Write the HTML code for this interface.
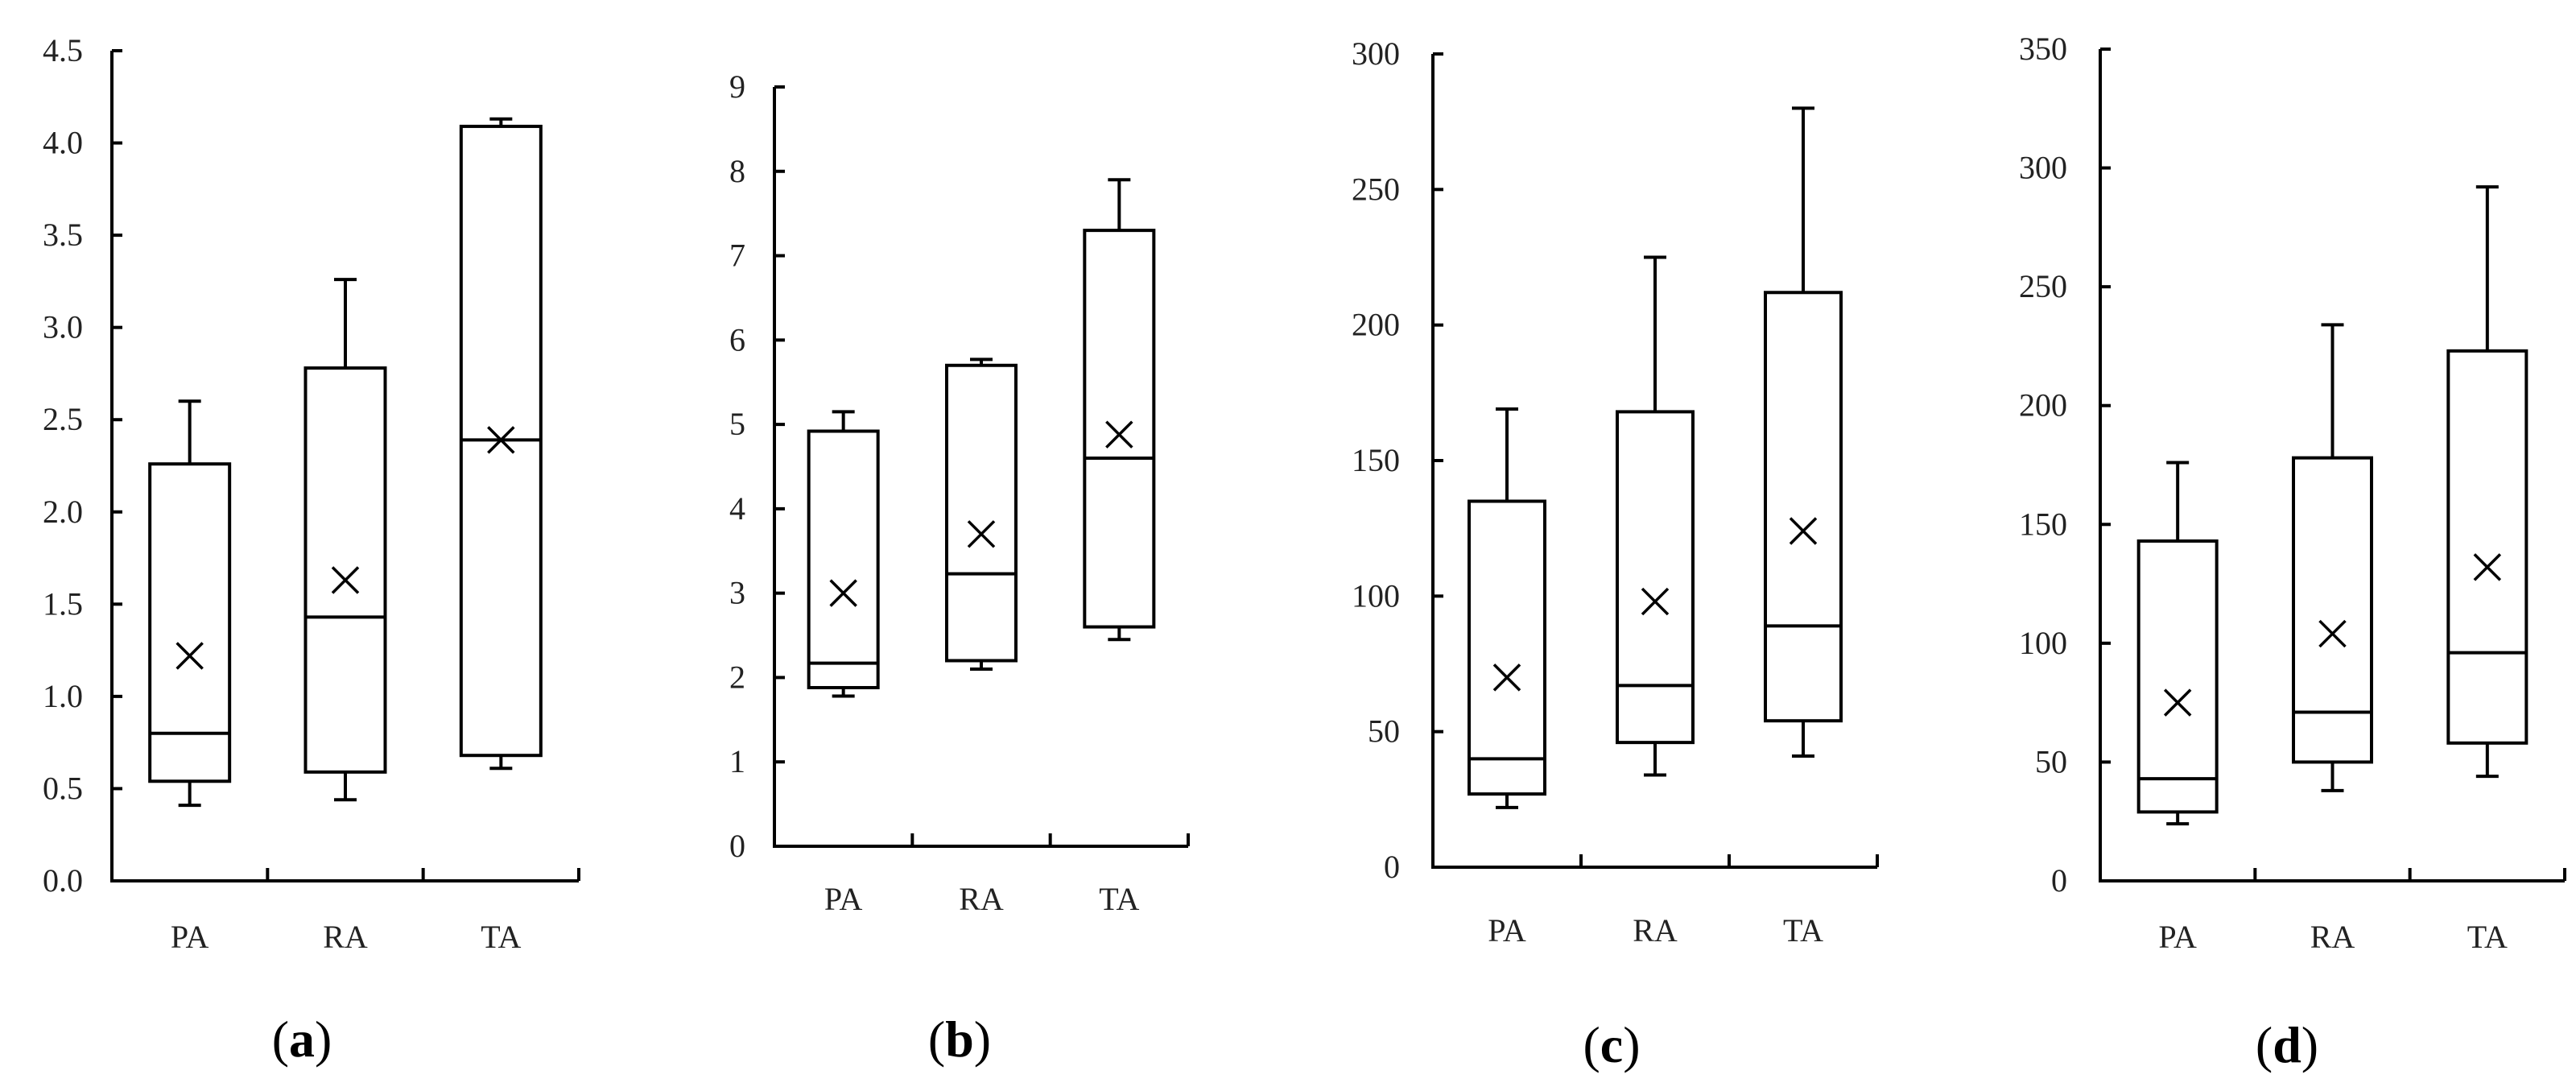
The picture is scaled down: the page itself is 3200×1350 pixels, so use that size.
<!DOCTYPE html>
<html><head><meta charset="utf-8"><style>
html,body{margin:0;padding:0;background:#fff;}
svg{display:block;font-family:"Liberation Serif",serif;}
</style></head><body>
<svg id="chart" width="3200" height="1350" viewBox="0 0 3200 1350" xmlns="http://www.w3.org/2000/svg"></svg>
<script>
const categories = ["PA","RA","TA"];
// panel a
const aMax=[2.6,3.26,4.13], aQ3=[2.26,2.78,4.09], aMed=[0.8,1.43,2.39], aQ1=[0.54,0.59,0.68], aMin=[0.41,0.44,0.61], aMean=[1.22,1.63,2.39];
const aTicks=["0.0","0.5","1.0","1.5","2.0","2.5","3.0","3.5","4.0","4.5"];
// panel b
const bMax=[5.15,5.77,7.9], bQ3=[4.92,5.7,7.3], bMed=[2.17,3.23,4.6], bQ1=[1.88,2.2,2.6], bMin=[1.78,2.1,2.45], bMean=[3.0,3.7,4.88];
const bTicks=["0","1","2","3","4","5","6","7","8","9"];
// panel c
const cMax=[169,225,280], cQ3=[135,168,212], cMed=[40,67,89], cQ1=[27,46,54], cMin=[22,34,41], cMean=[70,98,124];
const cTicks=["0","50","100","150","200","250","300"];
// panel d
const dMax=[176,234,292], dQ3=[143,178,223], dMed=[43,71,96], dQ1=[29,50,58], dMin=[24,38,44], dMean=[75,104,132];
const dTicks=["0","50","100","150","200","250","300","350"];

const svg=document.getElementById('chart');
const NS="http://www.w3.org/2000/svg";
function mk(tag,attrs,parent){const e=document.createElementNS(NS,tag);for(const k in attrs)e.setAttribute(k,attrs[k]);parent.appendChild(e);return e;}

const panels=[
 {id:"a",x0:139,x1:719,yTop:63,yBot:1094,labGap:36,labY:1163,capX:375,capY:1290,
  ticks:aTicks,max:aMax,q3:aQ3,med:aMed,q1:aQ1,min:aMin,mean:aMean,bw:99},
 {id:"b",x0:962,x1:1476,yTop:108,yBot:1051,labGap:36,labY:1116,capX:1192,capY:1290,
  ticks:bTicks,max:bMax,q3:bQ3,med:bMed,q1:bQ1,min:bMin,mean:bMean,bw:86},
 {id:"c",x0:1780,x1:2332,yTop:67,yBot:1077,labGap:41,labY:1155,capX:2002,capY:1297,
  ticks:cTicks,max:cMax,q3:cQ3,med:cMed,q1:cQ1,min:cMin,mean:cMean,bw:94},
 {id:"d",x0:2609,x1:3186,yTop:61,yBot:1094,labGap:41,labY:1163,capX:2841,capY:1297,
  ticks:dTicks,max:dMax,q3:dQ3,med:dMed,q1:dQ1,min:dMin,mean:dMean,bw:97}
];
const st={stroke:"#000","stroke-width":4,fill:"none"};
panels.forEach(p=>{
  const g=mk('g',{},svg);
  
  
  const vMin=parseFloat(p.ticks[0]), vMax=parseFloat(p.ticks[p.ticks.length-1]);
  const y=v=>p.yBot-(v-vMin)/(vMax-vMin)*(p.yBot-p.yTop);
  const n=categories.length, cw=(p.x1-p.x0)/n;
  const x=i=>p.x0+cw*(i+0.5);
  // y axis
  const ya=mk('line',Object.assign({x1:p.x0,y1:p.yTop,x2:p.x0,y2:p.yBot},st),g);
  
  
  p.ticks.forEach(t=>{
    const v=parseFloat(t);
    mk('line',Object.assign({x1:p.x0,y1:y(v),x2:p.x0+13,y2:y(v)},st),g);
    const tx=mk('text',{x:p.x0-p.labGap,y:y(v)+13,'text-anchor':'end','font-size':40,fill:'#222'},g);
    tx.textContent=t;
    
    
  });
  // x axis
  const xa=mk('line',Object.assign({x1:p.x0-2,y1:p.yBot,x2:p.x1,y2:p.yBot},st),g);
  
  
  for(let i=1;i<=n;i++){const xx=p.x0+cw*i;mk('line',Object.assign({x1:xx,y1:p.yBot,x2:xx,y2:p.yBot-16},st),g);}
  categories.forEach((c,i)=>{
    const tx=mk('text',{x:x(i),y:p.labY+14,'text-anchor':'middle','font-size':40,fill:'#222'},g);
    tx.textContent=c;
    
    
    const bg=mk('g',{},g);
    
    
    const cx=x(i), hw=p.bw/2;
    mk('line',Object.assign({x1:cx,y1:y(p.max[i]),x2:cx,y2:y(p.q3[i])},st),bg);
    mk('line',Object.assign({x1:cx-14,y1:y(p.max[i]),x2:cx+14,y2:y(p.max[i])},st),bg);
    mk('line',Object.assign({x1:cx,y1:y(p.q1[i]),x2:cx,y2:y(p.min[i])},st),bg);
    mk('line',Object.assign({x1:cx-14,y1:y(p.min[i]),x2:cx+14,y2:y(p.min[i])},st),bg);
    mk('rect',Object.assign({x:cx-hw,y:y(p.q3[i]),width:p.bw,height:y(p.q1[i])-y(p.q3[i])},st),bg);
    mk('line',Object.assign({x1:cx-hw,y1:y(p.med[i]),x2:cx+hw,y2:y(p.med[i])},st),bg);
    const my=y(p.mean[i]);
    mk('path',{d:`M${cx-16},${my-16}L${cx+16},${my+16}M${cx-16},${my+16}L${cx+16},${my-16}`,stroke:'#000','stroke-width':3.5,fill:'none'},bg);
  });
  const cap=mk('text',{x:p.capX,y:p.capY+22,'text-anchor':'middle','font-size':64,fill:'#000'},g);
  
  
  const t1=mk('tspan',{},cap);t1.textContent='(';
  const t2=mk('tspan',{'font-weight':'bold'},cap);t2.textContent=p.id;
  const t3=mk('tspan',{},cap);t3.textContent=')';
});
</script>
</body></html>
